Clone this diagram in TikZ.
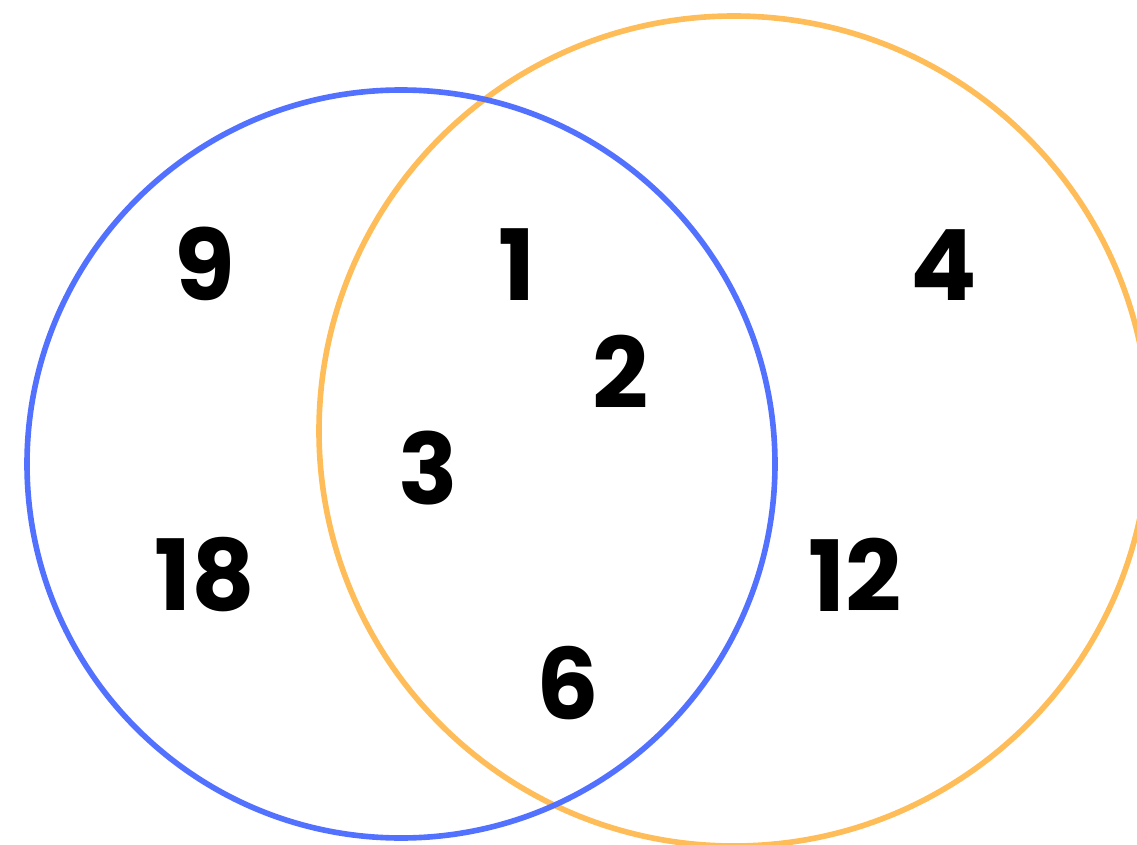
\documentclass[tikz,border=0pt]{standalone}
\usepackage{fontspec}
\setmainfont{Poppins}
\definecolor{setblue}{HTML}{5271FF}
\definecolor{setorange}{HTML}{FFBD59}
\tikzset{
  setline/.style={line width=3.2pt},
  num/.style={inner sep=0pt,font=\fontsize{56}{56}\selectfont\bfseries}
}
\begin{document}
\begin{tikzpicture}[x=0.02cm,y=-0.02cm]
  \useasboundingbox (0,0) rectangle (1137,845);
  % the two sets
  \begin{scope}
    \clip (0,0) rectangle (1137,845);
    \draw[setline,setorange] (734,431) circle[radius=415];
    \draw[setline,setblue] (401,464) circle[radius=374];
  \end{scope}
  % left part only
  \node[num] (nine) at (205,264) {9};
  \node[num] (eighteen) at (205,575) {18};
  % both sets
  \node[num] (one) at (517,265) {1};
  \node[num] (two) at (621,372) {2};
  \node[num] (three) at (428,468) {3};
  \node[num] (six) at (568,683) {6};
  % right part only
  \node[num] (four) at (944,265) {4};
  \node[num] (twelve) at (855,575) {12};
\end{tikzpicture}
\end{document}
